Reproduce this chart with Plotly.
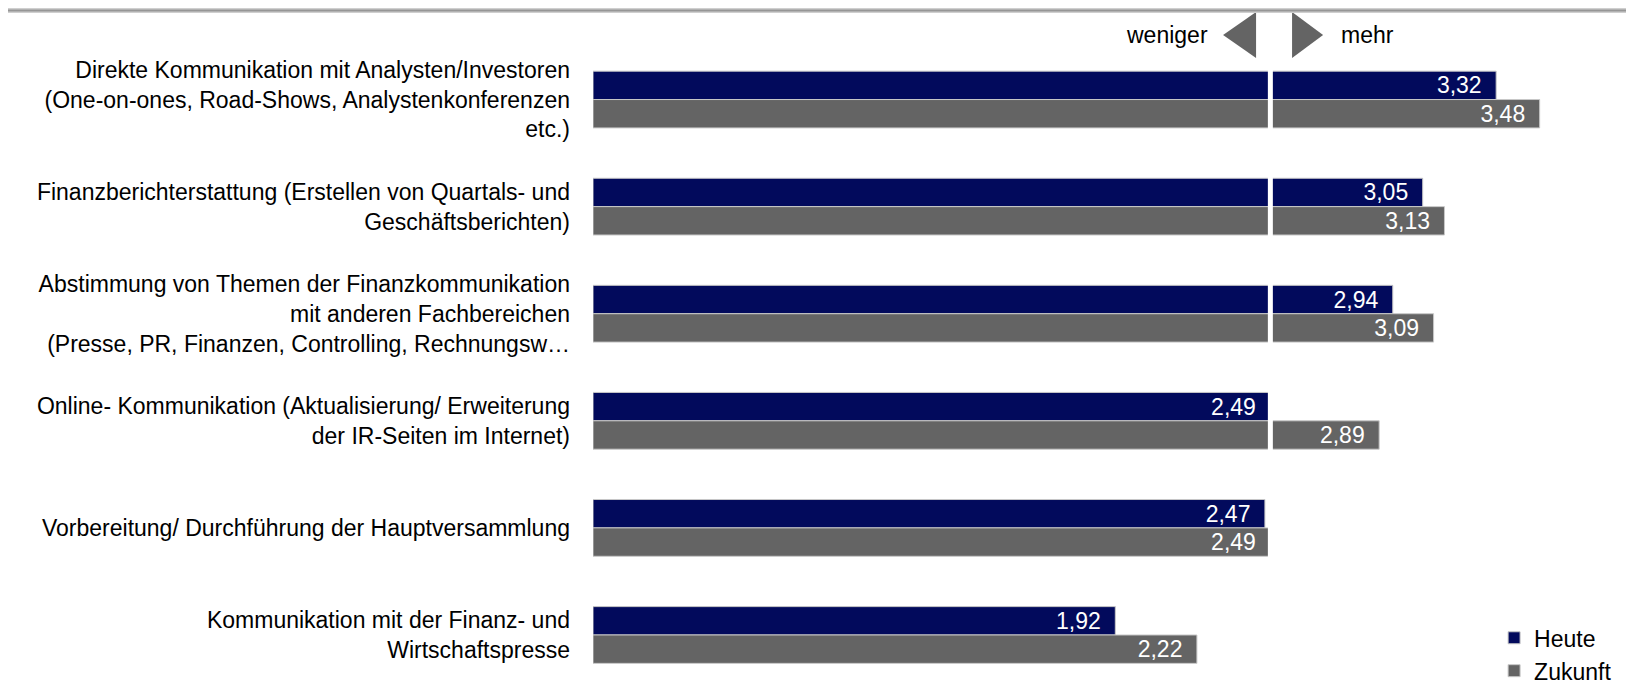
import plotly.graph_objects as go

categories = [
    "Direkte Kommunikation mit Analysten/Investoren<br>(One-on-ones, Road-Shows, Analystenkonferenzen<br>etc.)",
    "Finanzberichterstattung (Erstellen von Quartals- und<br>Geschäftsberichten)",
    "Abstimmung von Themen der Finanzkommunikation<br>mit anderen Fachbereichen<br>(Presse, PR, Finanzen, Controlling, Rechnungsw…",
    "Online- Kommunikation (Aktualisierung/ Erweiterung<br>der IR-Seiten im Internet)",
    "Vorbereitung/ Durchführung der Hauptversammlung",
    "Kommunikation mit der Finanz- und<br>Wirtschaftspresse",
]
heute = [3.32, 3.05, 2.94, 2.49, 2.47, 1.92]
zukunft = [3.48, 3.13, 3.09, 2.89, 2.49, 2.22]
series_names = ["Heute", "Zukunft"]
colors = ["#020a5c", "#646464"]
divider = 2.49  # Trennlinie zwischen weniger / mehr

FONT = "Liberation Sans, Arial, sans-serif"
FS = 23

fig = go.Figure()
for name, vals, col in zip(series_names, [heute, zukunft], colors):
    fig.add_trace(go.Bar(
        y=categories, x=vals, name=name, orientation="h",
        marker=dict(color=col, line=dict(color="#c8c8c8", width=1)),
        texttemplate="%{x:.2f}\u2002", textposition="inside", insidetextanchor="end",
        textfont=dict(color="white", size=FS, family=FONT),
    ))

# white gap splitting the bars at the divider
fig.add_shape(type="line", xref="x", yref="paper", x0=divider, x1=divider, y0=0, y1=1,
              line=dict(color="white", width=5), layer="above")

# arrows: weniger / mehr
fig.add_shape(type="path", xref="x", yref="paper", xsizemode="pixel", ysizemode="pixel",
              xanchor=2.5, yanchor=1, path="M -17 34 L -17 -12 L -50 11 Z",
              fillcolor="#646464", line=dict(width=0))
fig.add_shape(type="path", xref="x", yref="paper", xsizemode="pixel", ysizemode="pixel",
              xanchor=2.5, yanchor=1, path="M 19 34 L 19 -12 L 50 11 Z",
              fillcolor="#646464", line=dict(width=0))
fig.add_annotation(text="weniger", xref="x", yref="paper", x=2.5, y=1, xshift=-63, yshift=11,
                   xanchor="right", yanchor="middle", showarrow=False,
                   font=dict(size=FS, color="black", family=FONT))
fig.add_annotation(text="mehr", xref="x", yref="paper", x=2.5, y=1, xshift=66, yshift=11,
                   xanchor="left", yanchor="middle", showarrow=False,
                   font=dict(size=FS, color="black", family=FONT))

# grey header rule
fig.add_shape(type="rect", xref="paper", yref="paper", ysizemode="pixel", yanchor=1,
              x0=-1, x1=1.1, y0=33, y1=38, fillcolor="#cfcfcf", line=dict(width=0))
fig.add_shape(type="rect", xref="paper", yref="paper", ysizemode="pixel", yanchor=1,
              x0=-1, x1=1.1, y0=34.5, y1=36.5, fillcolor="#969696", line=dict(width=0))

fig.update_layout(
    width=1618, height=677,
    margin=dict(l=585, r=2, t=38, b=0, autoexpand=False),
    plot_bgcolor="white", paper_bgcolor="white",
    barmode="group", bargap=0.47, bargroupgap=0,
    separators=",.",
    font=dict(family=FONT, size=FS, color="black"),
    uniformtext=dict(minsize=FS, mode="show"),
    xaxis=dict(range=[0, 3.79], visible=False, fixedrange=True),
    yaxis=dict(range=[5.467, -0.5], showgrid=False, showline=False, ticks="",
               automargin=False, ticklabelstandoff=22,
               tickfont=dict(size=FS, family=FONT, color="black")),
    legend=dict(x=0.874, xanchor="left", y=0.048, yanchor="middle", traceorder="normal",
                font=dict(size=FS, family=FONT), itemwidth=30, bgcolor="rgba(0,0,0,0)",
                tracegroupgap=0),
    showlegend=True,
)

fig.write_html("out.html")
